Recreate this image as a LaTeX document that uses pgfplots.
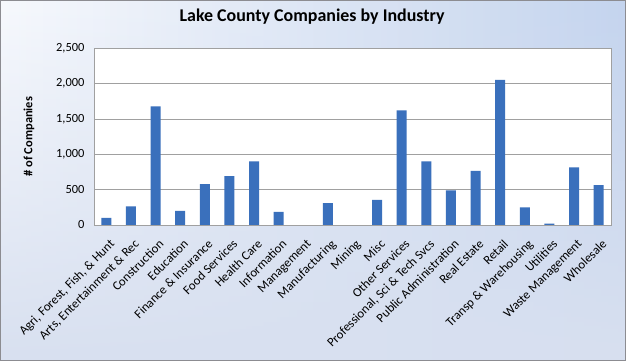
\documentclass[border=0pt]{standalone}
\usepackage{fontspec}
\setmainfont{Carlito}
\usepackage{pgfplots}
\pgfplotsset{compat=1.18}
\usetikzlibrary{fadings}
\definecolor{bgL}{RGB}{247,249,253}
\definecolor{bgR}{RGB}{196,212,238}
\definecolor{bgB}{RGB}{216,224,240}
\definecolor{barFill}{RGB}{58,112,188}
\definecolor{gridgray}{RGB}{160,160,160}
\definecolor{frame}{RGB}{140,140,145}
\begin{document}
\begin{tikzpicture}
\useasboundingbox (0,0) rectangle (626bp,361bp);
\shade[left color=bgL, right color=bgR] (0,0) rectangle (626bp,361bp);
\fill[bgB, path fading=north] (0,0) rectangle (626bp,361bp);
\begin{axis}[
  at={(94bp,136bp)}, anchor=south west,
  scale only axis, width=517bp, height=176.7bp,
  xmin=-0.5, xmax=20.5, ymin=0, ymax=2500,
  ytick={0,500,1000,1500,2000,2500},
  xtick={0,...,20},
  xticklabels={{Agri, Forest, Fish, \& Hunt},{Arts, Entertainment \& Rec},Construction,Education,{Finance \& Insurance},{Food Services},{Health Care},Information,Management,Manufacturing,Mining,Misc,{Other Services},{Professional, Sci \& Tech Svcs},{Public Administration},{Real Estate},Retail,{Transp \& Warehousing},Utilities,{Waste Management},Wholesale},
  major tick length=0pt,
  ymajorgrids, grid style={gridgray, line width=0.7bp},
  axis line style={gridgray, line width=0.7bp},
  axis background/.style={fill=white},
  /pgf/number format/assume math mode=true,
  /pgf/number format/1000 sep={,},
  yticklabel style={font=\fontsize{12.5}{15}\selectfont, xshift=-6bp},
  xticklabel style={font=\fontsize{12.8}{15}\selectfont, xshift=2.5bp, yshift=-12bp, rotate=45, anchor=north east, inner sep=1bp},
  title={Lake County Companies by Industry},
  title style={font=\fontsize{18}{21}\selectfont\bfseries, at={(axis description cs:0.4217,1.1166)}, anchor=base},
  ylabel={\# of Companies},
  ylabel style={font=\fontsize{12.5}{15}\selectfont\bfseries, at={(axis description cs:-0.1257,0.5)}, anchor=center},
]
\addplot[ybar, bar width=10bp, draw=none, fill=barFill] coordinates {
(0,100) (1,265) (2,1680) (3,200) (4,580) (5,690) (6,900) (7,185) (8,0) (9,310) (10,0) (11,355) (12,1620) (13,900) (14,490) (15,765) (16,2055) (17,250) (18,20) (19,815) (20,565)
};
\end{axis}
\draw[frame, line width=1.2bp] (0.6bp,0.6bp) rectangle (625.4bp,360.4bp);
\end{tikzpicture}
\end{document}
